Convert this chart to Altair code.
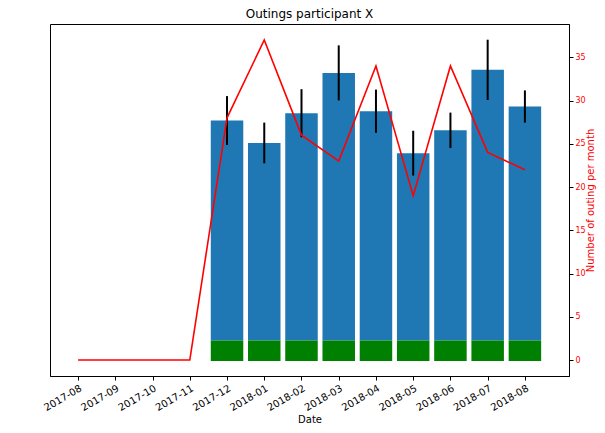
import altair as alt
import pandas as pd

months = ["2017-08", "2017-09", "2017-10", "2017-11", "2017-12", "2018-01", "2018-02",
          "2018-03", "2018-04", "2018-05", "2018-06", "2018-07", "2018-08"]
duration = [0, 0, 0, 0, 108.0, 97.0, 111.6, 131.4, 112.6, 92.0, 103.2, 132.9, 114.9]
duration_err = [0, 0, 0, 0, 12.0, 10.0, 11.8, 13.5, 10.6, 11.0, 8.7, 14.8, 7.9]
outings = [0, 0, 0, 0, 28, 37, 26, 23, 34, 19, 34, 24, 22]
base_level = -10

df = pd.DataFrame({"idx": list(range(len(months))), "month": months,
                   "duration": duration, "err": duration_err, "outings": outings})
df["lo"] = df["duration"] - df["err"]
df["hi"] = df["duration"] + df["err"]
df["base"] = base_level
df["zero"] = 0

FONT = "DejaVu Sans"
BLUE = "#1f77b4"

label_array = "[" + ",".join("'%s'" % m for m in months) + "]"

xscale = alt.Scale(domain=[-0.62, 13.05], nice=False, zero=False)
xaxis = alt.Axis(values=list(range(len(months))), labelExpr=label_array + "[datum.value]",
                 labelAngle=-30, labelAlign="right", labelBaseline="top",
                 labelOverlap=False, title="Date", grid=False, labelColor="black",
                 titleColor="black", tickColor="black", domainColor="black",
                 labelFontSize=10, titleFontSize=10, titleFontWeight="normal",
                 labelFont=FONT, titleFont=FONT, tickSize=4, labelPadding=3,
                 titlePadding=2)

lscale = alt.Scale(domain=[-17.4, 155.4], nice=False, zero=False)
rscale = alt.Scale(domain=[-1.85, 38.85], nice=False, zero=False)

laxis = alt.Axis(values=[0, 20, 40, 60, 80, 100, 120, 140], title="Average duration in minute",
                 labelColor=BLUE, titleColor=BLUE, grid=False, tickColor="black",
                 domainColor="black", labelFontSize=10, titleFontSize=10,
                 titleFontWeight="normal", labelFont=FONT, titleFont=FONT, tickSize=4,
                 labelPadding=2, titlePadding=4)
raxis = alt.Axis(values=[0, 5, 10, 15, 20, 25, 30, 35], title="Number of outing per month",
                 labelColor="red", titleColor="red", grid=False, tickColor="black",
                 domainColor="black", labelFontSize=8, titleFontSize=10,
                 titleFontWeight="normal", labelFont=FONT, titleFont=FONT, tickSize=4,
                 labelPadding=2, titlePadding=0, titleAngle=270, titleBaseline="top",
                 orient="right")

base = alt.Chart(df)
x = alt.X("idx:Q", scale=xscale, axis=xaxis)
has_data = "datum.duration > 0"

blue = base.transform_filter(has_data).mark_bar(size=32.5, color=BLUE).encode(
    x=x, y=alt.Y("zero:Q", scale=lscale, axis=laxis), y2="duration:Q")
green = base.transform_filter(has_data).mark_bar(size=32.5, color="green").encode(
    x=x, y=alt.Y("base:Q", scale=lscale, axis=None), y2="zero:Q")
errs = base.transform_filter(has_data).mark_rule(color="black", strokeWidth=2).encode(
    x=x, y=alt.Y("lo:Q", scale=lscale, axis=None), y2="hi:Q")

left = alt.layer(blue, green, errs)

line = base.mark_line(color="red", strokeWidth=1.6).encode(
    x=x, y=alt.Y("outings:Q", scale=rscale, axis=raxis))

chart = alt.layer(left, line).resolve_scale(y="independent").properties(
    width=519, height=352,
    autosize=alt.AutoSizeParams(type="none"),
    padding={"left": 42, "top": 16, "right": 28, "bottom": 49},
    title=alt.TitleParams("Outings participant X", fontSize=12, font=FONT,
                          fontWeight="normal", offset=3, color="black"),
).configure_view(stroke="black", strokeWidth=1)

chart.save("out.html", embed_options={"renderer": "svg", "actions": False})
